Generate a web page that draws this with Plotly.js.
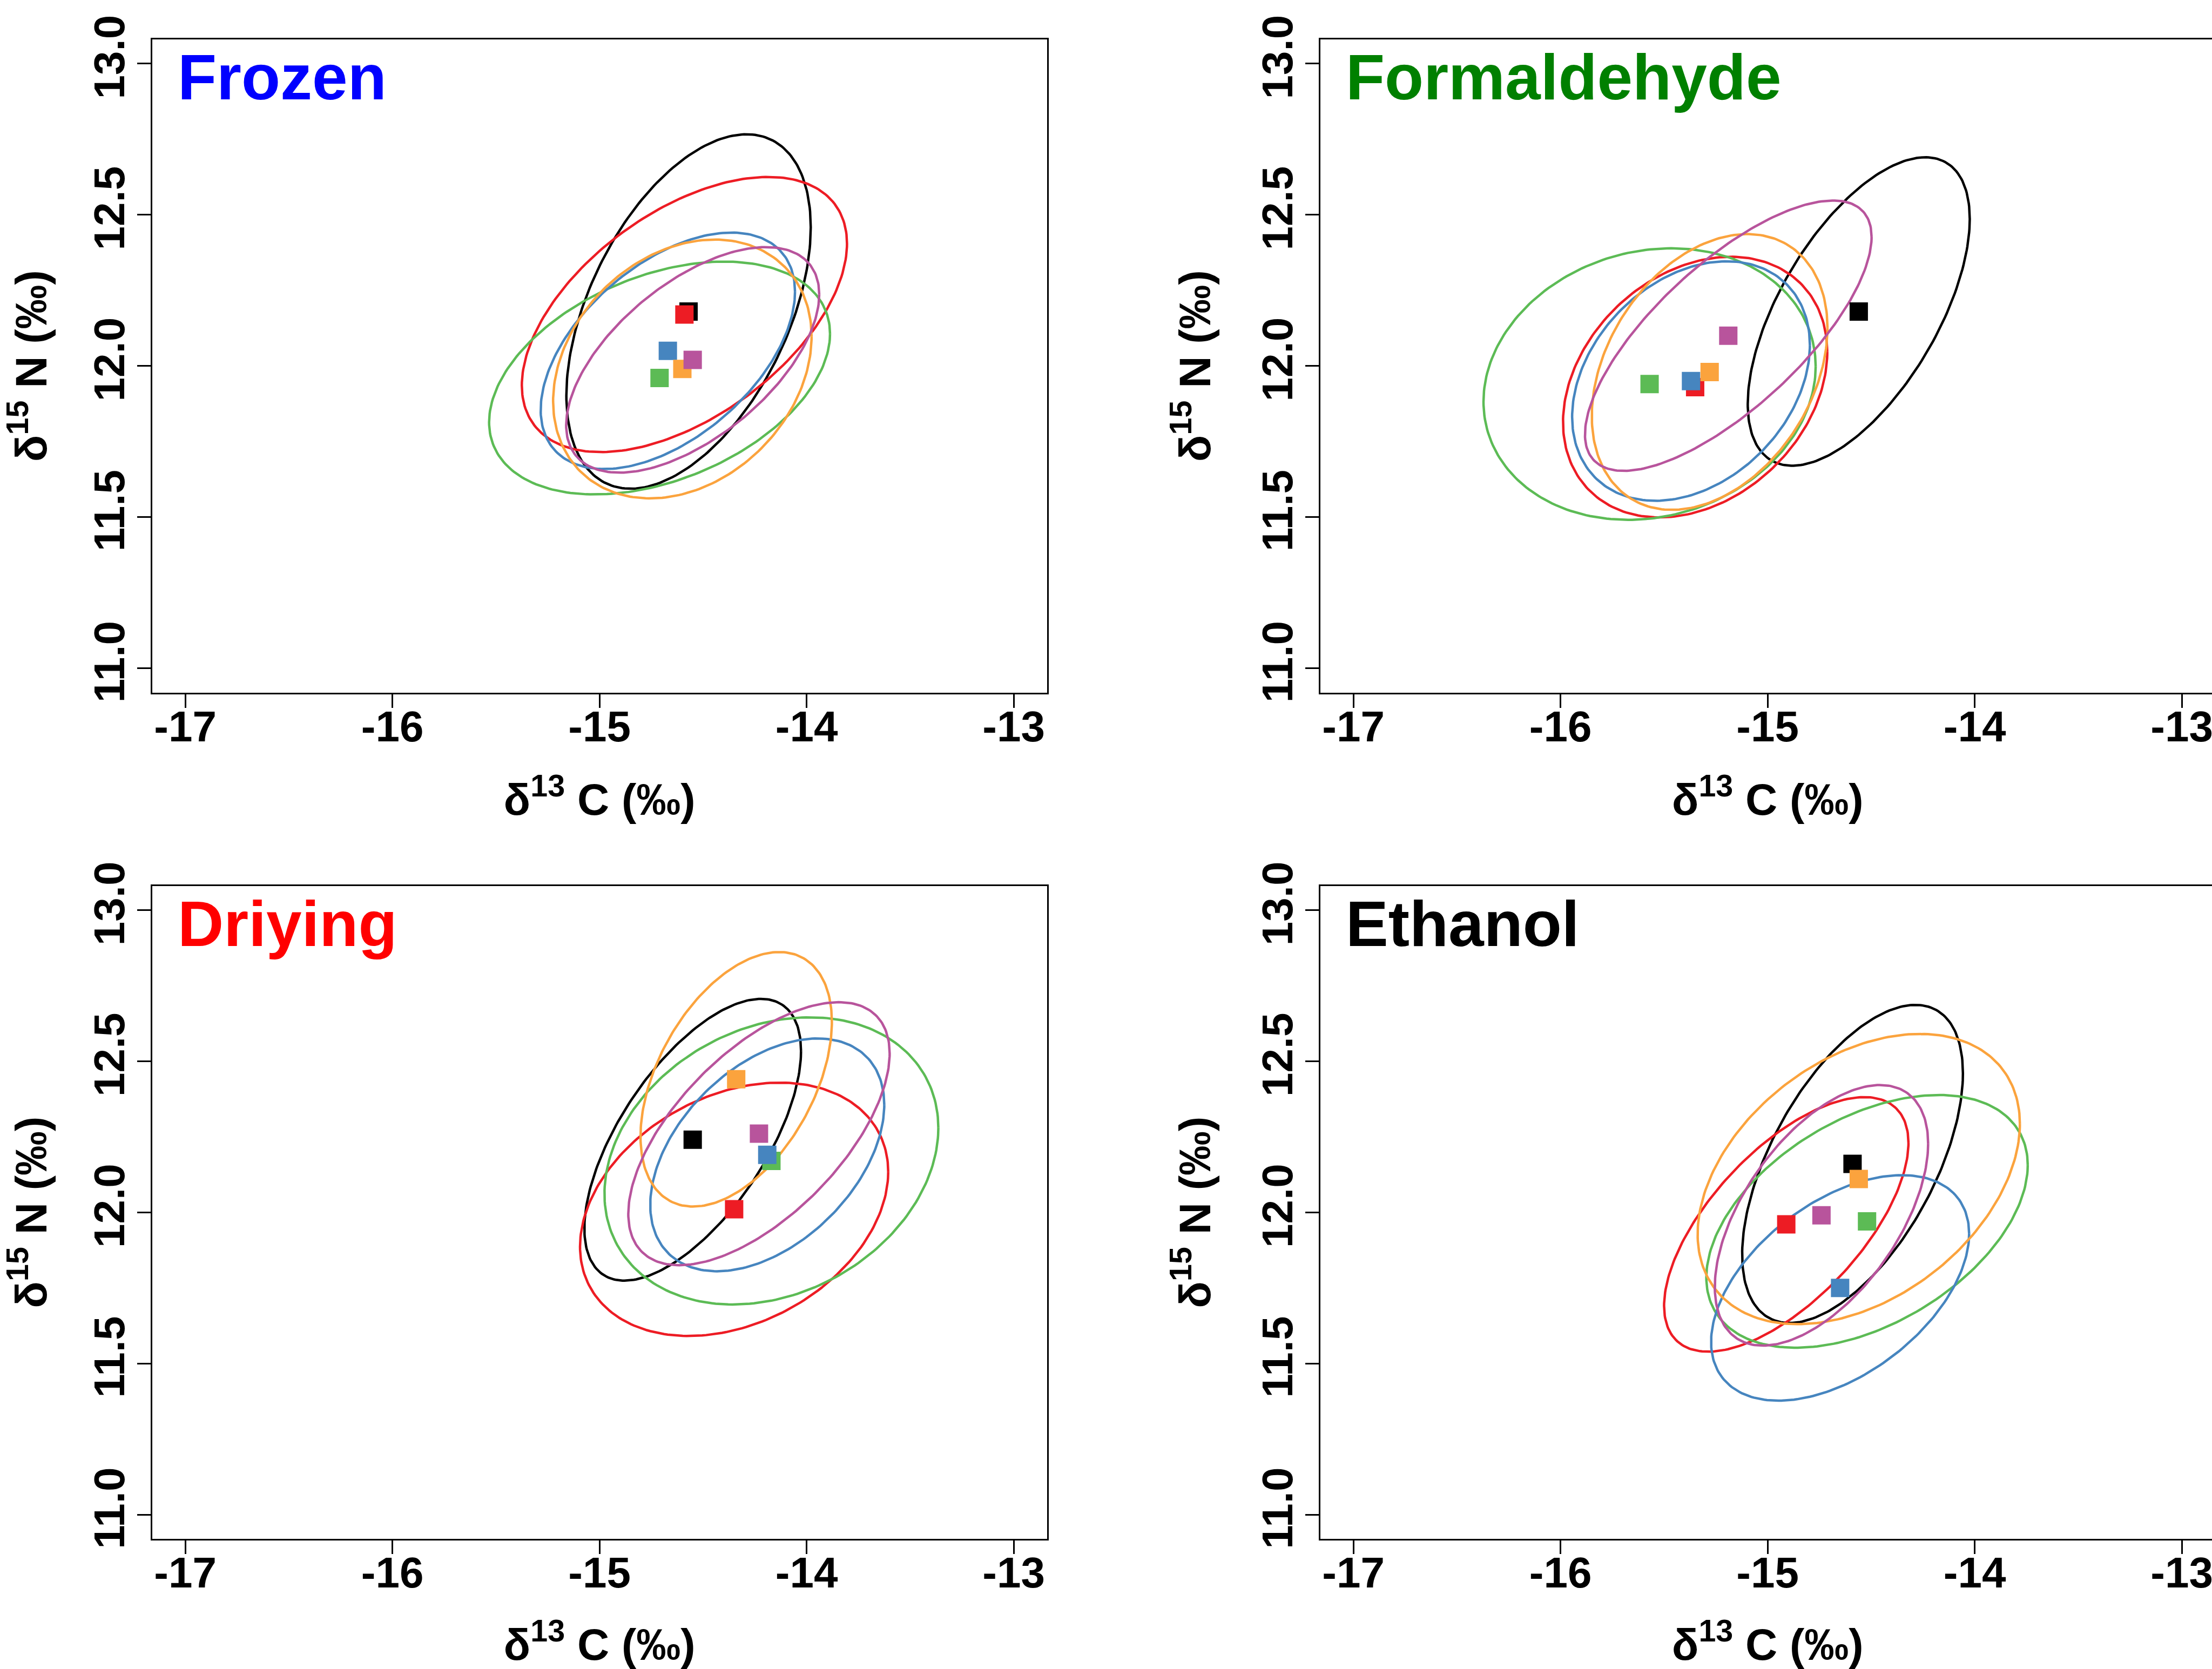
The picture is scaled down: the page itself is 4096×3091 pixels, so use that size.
<!DOCTYPE html>
<html>
<head>
<meta charset="utf-8">
<script src="https://cdn.plot.ly/plotly-3.0.1.min.js"></script>
<style>
html,body{margin:0;padding:0;overflow:hidden;background:#ffffff;}
#chart{width:4200px;height:3091px;}
</style>
</head>
<body>
<div id="chart"></div>
<script>
// ---------------- data ----------------
const panelNames = ["Frozen", "Formaldehyde", "Driying", "Ethanol"];
const panelTitleColors = ["#0000FF", "#008000", "#FF0000", "#000000"];

// groups, in drawing order
const groupNames = ["Group 1", "Group 2", "Group 3", "Group 4", "Group 5", "Group 6"];
const groupColors = ["#000000", "#ED1C24", "#5CBB55", "#4685BF", "#FBA33D", "#B8549C"];

// Frozen
const frozenMeanX = [-14.57, -14.59, -14.71, -14.67, -14.60, -14.55];
const frozenMeanY = [12.18, 12.17, 11.96, 12.05, 11.99, 12.02];
const frozenHalfX = [0.590, 0.785, 0.823, 0.614, 0.624, 0.611];
const frozenHalfY = [0.586, 0.455, 0.385, 0.391, 0.428, 0.373];
const frozenCorr  = [0.475, 0.515, 0.38, 0.50, 0.25, 0.58];

// Formaldehyde
const formMeanX = [-14.56, -15.35, -15.57, -15.37, -15.28, -15.19];
const formMeanY = [12.18, 11.93, 11.94, 11.95, 11.98, 12.10];
const formHalfX = [0.536, 0.638, 0.802, 0.574, 0.569, 0.692];
const formHalfY = [0.510, 0.431, 0.449, 0.396, 0.456, 0.447];
const formCorr  = [0.60, 0.27, 0.13, 0.30, 0.32, 0.73];

// Driying
const dryMeanX = [-14.55, -14.35, -14.17, -14.19, -14.34, -14.23];
const dryMeanY = [12.24, 12.01, 12.17, 12.19, 12.44, 12.26];
const dryHalfX = [0.523, 0.744, 0.806, 0.565, 0.462, 0.631];
const dryHalfY = [0.466, 0.419, 0.475, 0.385, 0.421, 0.435];
const dryCorr  = [0.63, 0.295, 0.23, 0.43, 0.45, 0.61];

// Ethanol
const ethMeanX = [-14.59, -14.91, -14.52, -14.65, -14.56, -14.74];
const ethMeanY = [12.16, 11.96, 11.97, 11.75, 12.11, 11.99];
const ethHalfX = [0.533, 0.590, 0.776, 0.623, 0.778, 0.515];
const ethHalfY = [0.526, 0.421, 0.418, 0.373, 0.480, 0.431];
const ethCorr  = [0.57, 0.64, 0.445, 0.48, 0.38, 0.55];

const xRange = [-17.16, -12.84];
const yRange = [10.92, 13.08];
const xTickVals = [-17, -16, -15, -14, -13];
const xTickText = ["-17", "-16", "-15", "-14", "-13"];
const yTickVals = [11.0, 11.5, 12.0, 12.5, 13.0];
const yTickText = ["11.0", "11.5", "12.0", "12.5", "13.0"];
const xTitle = "δ<sup>13</sup> C (‰)";
const yTitle = "δ<sup>15</sup> N (‰)";

// ---------------- build ----------------
const panelData = [
  [frozenMeanX, frozenMeanY, frozenHalfX, frozenHalfY, frozenCorr],
  [formMeanX, formMeanY, formHalfX, formHalfY, formCorr],
  [dryMeanX, dryMeanY, dryHalfX, dryHalfY, dryCorr],
  [ethMeanX, ethMeanY, ethHalfX, ethHalfY, ethCorr]
];

const W = 4200, H = 3091;
// frame boxes in px (left, right, top, bottom)
const colBox = [[281.7, 1938.5], [2444.8, 4101.5]];
const rowBox = [[72.9, 1282.5], [1640.5, 2849.9]];

const FONT = "Liberation Sans, Arial, Helvetica, sans-serif";
const traces = [];
const NPT = 241;

panelData.forEach((pd, p) => {
  const suf = p === 0 ? "" : String(p + 1);
  const [mx, my, hx, hy, rc] = pd;
  for (let g = 0; g < mx.length; g++) {
    const ex = [], ey = [];
    const s = Math.sqrt(1 - rc[g] * rc[g]);
    for (let i = 0; i < NPT; i++) {
      const t = 2 * Math.PI * i / (NPT - 1);
      ex.push(mx[g] + hx[g] * Math.cos(t));
      ey.push(my[g] + hy[g] * (rc[g] * Math.cos(t) + s * Math.sin(t)));
    }
    traces.push({
      type: "scatter", mode: "lines", x: ex, y: ey,
      xaxis: "x" + suf, yaxis: "y" + suf,
      line: {color: groupColors[g], width: 4.5},
      name: groupNames[g], hoverinfo: "skip", showlegend: false
    });
  }
  for (let g = 0; g < mx.length; g++) {
    traces.push({
      type: "scatter", mode: "markers", x: [mx[g]], y: [my[g]],
      xaxis: "x" + suf, yaxis: "y" + suf,
      marker: {symbol: "square", size: 34, color: groupColors[g], line: {width: 0}},
      name: groupNames[g], showlegend: false
    });
  }
});

const layout = {
  width: W, height: H,
  margin: {l: 0, r: 0, t: 0, b: 0},
  paper_bgcolor: "#ffffff", plot_bgcolor: "#ffffff",
  showlegend: false,
  annotations: []
};

panelNames.forEach((name, p) => {
  const suf = p === 0 ? "" : String(p + 1);
  const col = p % 2, row = Math.floor(p / 2);
  const xd = [colBox[col][0] / W, colBox[col][1] / W];
  const yd = [1 - rowBox[row][1] / H, 1 - rowBox[row][0] / H];
  layout["xaxis" + suf] = {
    domain: xd, anchor: "y" + suf, range: xRange,
    tickmode: "array", tickvals: xTickVals, ticktext: xTickText,
    ticks: "outside", ticklen: 25, tickwidth: 3, tickcolor: "#000",
    ticklabelstandoff: -34,
    showline: true, linewidth: 3, linecolor: "#000", mirror: true,
    showgrid: false, zeroline: false, automargin: false,
    tickfont: {family: FONT, size: 80, color: "#000", weight: "bold"},
    title: {text: xTitle, font: {family: FONT, size: 82, color: "#000", weight: "bold"}, standoff: 64}
  };
  layout["yaxis" + suf] = {
    domain: yd, anchor: "x" + suf, range: yRange,
    tickmode: "array", tickvals: yTickVals, ticktext: yTickText, tickangle: -90,
    ticks: "outside", ticklen: 25, tickwidth: 3, tickcolor: "#000",
    ticklabelstandoff: -8,
    showline: true, linewidth: 3, linecolor: "#000", mirror: true,
    showgrid: false, zeroline: false, automargin: false,
    tickfont: {family: FONT, size: 80, color: "#000", weight: "bold"},
    title: {text: yTitle, font: {family: FONT, size: 82, color: "#000", weight: "bold"}, standoff: 53}
  };
  layout.annotations.push({
    text: name, xref: "x" + suf + " domain", yref: "y" + suf + " domain",
    x: 0.0272, y: 0.9418, xanchor: "left", yanchor: "middle", showarrow: false,
    font: {family: FONT, size: 118, color: panelTitleColors[p], weight: "bold"}
  });
});

Plotly.newPlot("chart", traces, layout, {displayModeBar: false, staticPlot: true});
</script>
</body>
</html>
